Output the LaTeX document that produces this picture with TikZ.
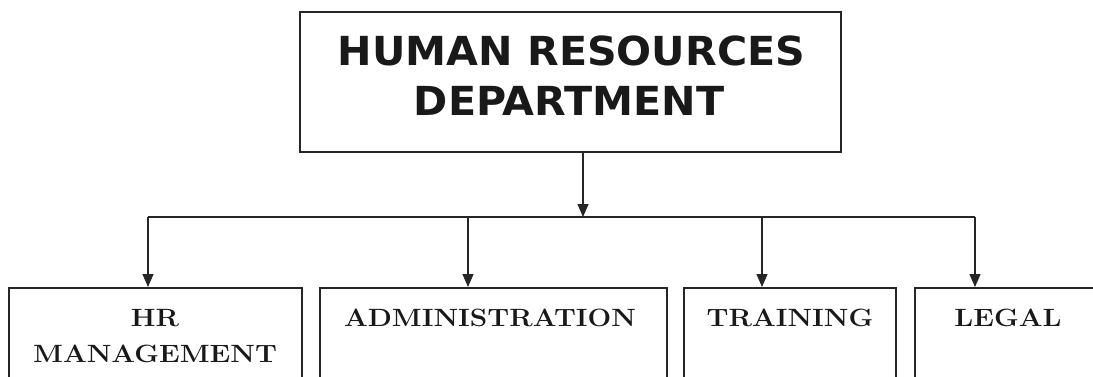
\documentclass[tikz,border=0pt]{standalone}
\usepackage{fontspec}
\usetikzlibrary{arrows.meta}
\newfontfamily\headfont{DejaVu Sans}
\newcommand\widetxt[1]{\scalebox{1.12}[1]{#1}}
\newcommand\headwide[1]{\scalebox{1.03}[1]{#1}}
\tikzset{
  box/.style={draw=black!85, line width=1.6pt, inner sep=0pt},
  conn/.style={draw=black!85, line width=1.2pt},
  arr/.style={conn, -{Triangle[length=13pt,width=11pt]}},
  headtxt/.style={anchor=base, inner sep=0pt, font=\headfont\bfseries\fontsize{40}{48}\selectfont, text=black!90},
  subtxt/.style={anchor=base, inner sep=0pt, font=\bfseries\fontsize{25}{30}\selectfont, text=black!90}
}
\begin{document}
\begin{tikzpicture}[x=1pt,y=-1pt]
\useasboundingbox (0,0) rectangle (1093,376);
\clip (0,0) rectangle (1093,376);
% top box
\node[box, minimum width=541pt, minimum height=140pt] (top) at (570.5,82) {};
\node[headtxt] (topA) at (571.5,65) {\headwide{HUMAN RESOURCES}};
\node[headtxt] (topB) at (569,115) {\headwide{DEPARTMENT}};
% bottom boxes
\node[box, minimum width=293pt, minimum height=160pt, anchor=north west] (b1) at (8,287) {};
\node[box, minimum width=347pt, minimum height=160pt, anchor=north west] (b2) at (319,287) {};
\node[box, minimum width=212pt, minimum height=160pt, anchor=north west] (b3) at (683,287) {};
\node[box, minimum width=200pt, minimum height=160pt, anchor=north west] (b4) at (914,287) {};
% texts
\node[subtxt] (t1a) at (155,326) {\widetxt{HR}};
\node[subtxt] (t1b) at (155,362) {\widetxt{MANAGEMENT}};
\node[subtxt] (t2) at (490,326) {\widetxt{ADMINISTRATION}};
\node[subtxt] (t3) at (790,326) {\widetxt{TRAINING}};
\node[subtxt] (t4) at (1008,326) {\widetxt{LEGAL}};
% connectors
\coordinate (j) at (583,217);
\coordinate (c1) at (148,217);
\coordinate (c2) at (468,217);
\coordinate (c3) at (762,217);
\coordinate (c4) at (975,217);
\draw[arr] (top.south -| j) -- (j);
\draw[conn] (c1) -- (c4);
\draw[arr] (c1) -- (c1 |- b1.north);
\draw[arr] (c2) -- (c2 |- b2.north);
\draw[arr] (c3) -- (c3 |- b3.north);
\draw[arr] (c4) -- (c4 |- b4.north);
\end{tikzpicture}
\end{document}
